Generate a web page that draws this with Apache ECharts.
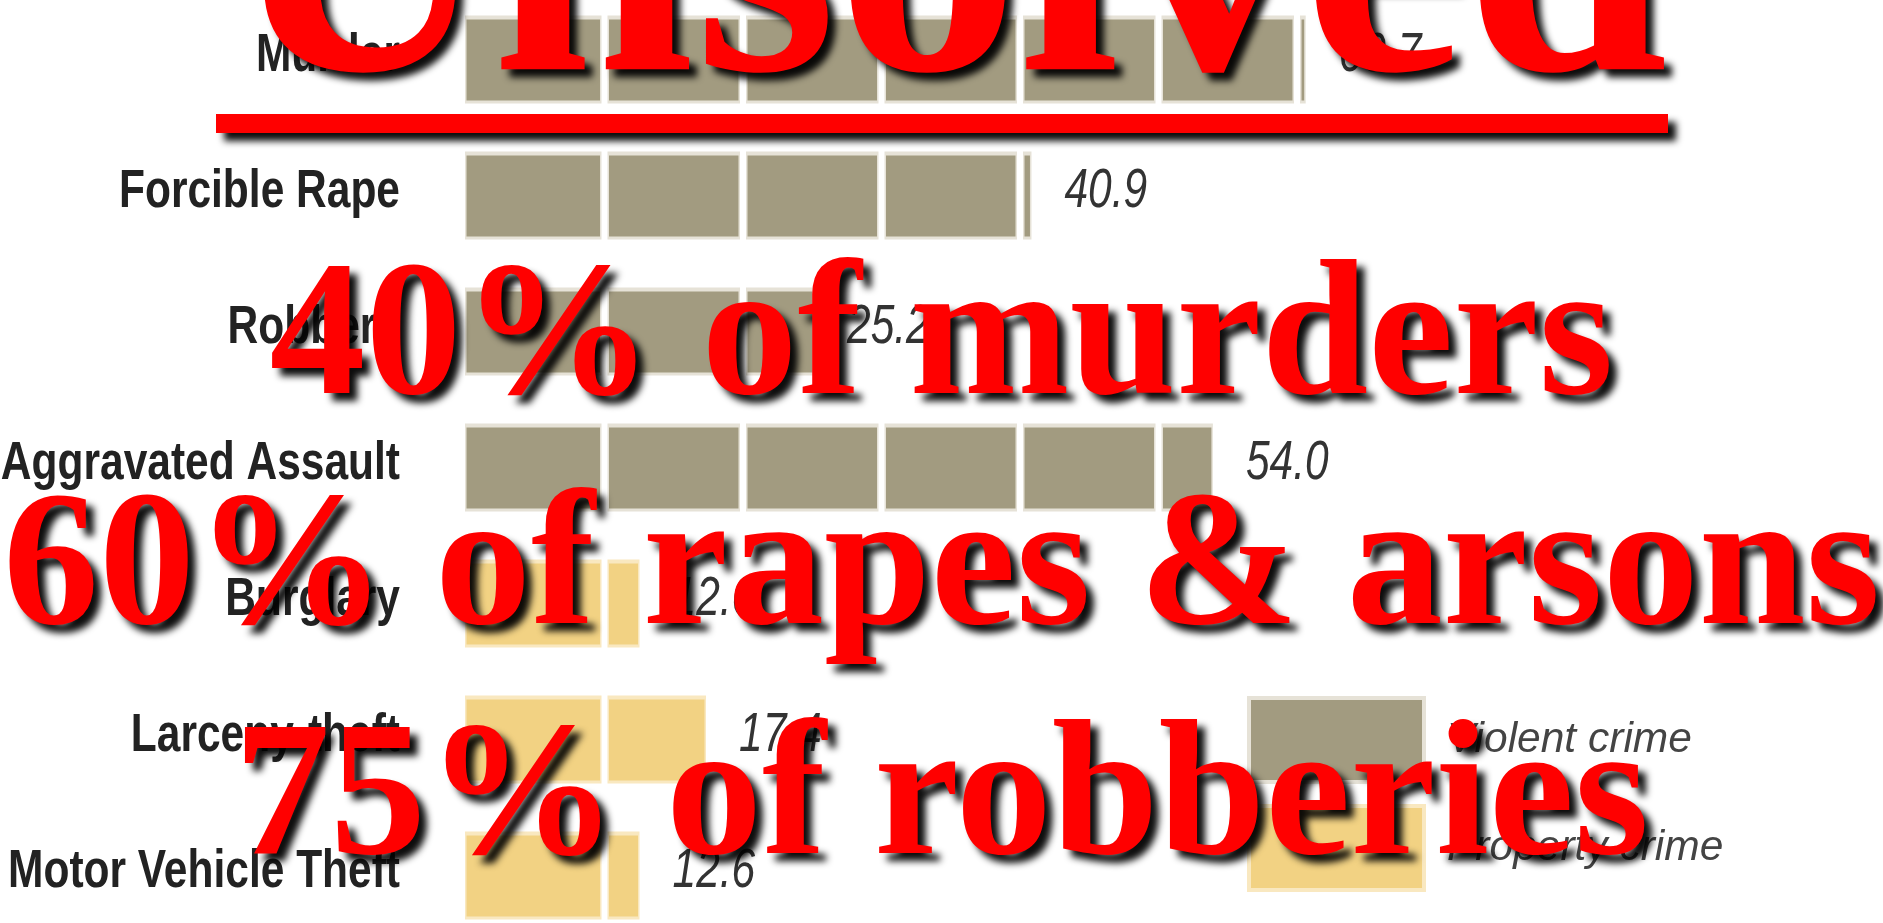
<!DOCTYPE html>
<html>
<head>
<meta charset="utf-8">
<script src="https://cdn.jsdelivr.net/npm/echarts@6/dist/echarts.min.js"></script>
<style>
html,body{margin:0;padding:0;background:#fff;overflow:hidden;}
#chart{width:1883px;height:923px;}
</style>
</head>
<body>
<div id="chart"></div>
<script>
// ---- data ----
const categories = ['Murder', 'Forcible Rape', 'Robbery', 'Aggravated Assault', 'Burglary', 'Larceny-theft', 'Motor Vehicle Theft'];
const violentValues = [60.7, 40.9, 25.2, 54.0, null, null, null];
const propertyValues = [null, null, null, null, 12.6, 17.4, 12.6];
const seriesNames = ['Violent crime', 'Property crime'];
const blockStep = 10;
const headline = 'Unsolved';
const callouts = ['40% of murders', '60% of rapes & arsons', '75% of robberies'];

const sansFam = '"Liberation Sans", Arial, sans-serif';
const serif = '"Liberation Serif", "Times New Roman", serif';
const catSize = 42.5, valSize = 42.5, legSize = 42.5, stretchY = 1.27;

const colors = {
  violent: { fill: '#a29b80', edge: '#e6e2d7' },
  property: { fill: '#f2d283', edge: '#f9e8c0' }
};

function toData(values) {
  const out = [];
  values.forEach((v, i) => { if (v != null) out.push([v, i]); });
  return out;
}

function makeRender(fill, edge) {
  return function (params, api) {
    const v = api.value(0), cat = api.value(1);
    const c0 = api.coord([0, cat]);
    const bandH = api.size([0, 1])[1];
    const h = bandH * 0.647;
    const top = c0[1] - h / 2;
    const children = [];
    for (let k = 0; k * blockStep < v; k++) {
      const lo = k * blockStep, hi = Math.min((k + 1) * blockStep, v);
      const xa = api.coord([lo, cat])[0] + (k > 0 ? 4 : 0);
      const xb = api.coord([hi, cat])[0] - (hi < v ? 2 : 0);
      const w = Math.max(xb - xa, 1);
      children.push({ type: 'rect', shape: { x: xa, y: top, width: w, height: h }, style: { fill: edge } });
      children.push({ type: 'rect', shape: { x: xa + 1.5, y: top + 4, width: Math.max(w - 3, 1), height: h - 7 }, style: { fill: fill } });
    }
    const xe = api.coord([v, cat])[0];
    children.push({
      type: 'text', x: xe + 33, y: c0[1] - 4, scaleX: 1, scaleY: 1.3,
      style: {
        text: v.toFixed(1), x: 0, y: 0,
        fill: '#333', font: 'italic ' + valSize + 'px ' + sansFam,
        textAlign: 'left', align: 'left', textVerticalAlign: 'middle', verticalAlign: 'middle'
      }
    });
    return { type: 'group', children: children };
  };
}

function renderCategoryLabel(params, api) {
  const cat = api.value(1);
  const c0 = api.coord([0, cat]);
  return {
    type: 'text', x: c0[0] - 65, y: c0[1] - 3, scaleX: 1, scaleY: stretchY,
    style: {
      text: categories[cat], x: 0, y: 0, fill: '#222',
      font: 'bold ' + catSize + 'px ' + sansFam,
      textAlign: 'right', align: 'right', textVerticalAlign: 'middle', verticalAlign: 'middle'
    }
  };
}

const shadow = {
  textShadowBlur: 7, textShadowColor: 'rgba(0,0,0,0.95)', textShadowOffsetX: 8, textShadowOffsetY: 8
};
const rectShadow = { shadowBlur: 7, shadowColor: 'rgba(0,0,0,0.95)', shadowOffsetX: 8, shadowOffsetY: 8 };
const bigFont = 'bold 192px ' + serif;
const calloutBaselines = [398, 628, 858];

const graphics = [
  {
    type: 'text', z: 100,
    x: 948, y: 78 - 103,
    style: Object.assign({ text: headline, fill: '#ff0000', font: 'bold 365px ' + serif,
      textAlign: 'center', align: 'center', textVerticalAlign: 'middle', verticalAlign: 'middle' }, shadow)
  },
  {
    type: 'rect', z: 100,
    shape: { x: 216, y: 114, width: 1452, height: 19 },
    style: Object.assign({ fill: '#ff0000' }, rectShadow)
  }
];
callouts.forEach((t, i) => {
  graphics.push({
    type: 'text', z: 100,
    x: 941.5, y: calloutBaselines[i] - 55,
    style: Object.assign({ text: t, fill: '#ff0000', font: bigFont,
      textAlign: 'center', align: 'center', textVerticalAlign: 'middle', verticalAlign: 'middle' }, shadow)
  });
});

const chart = echarts.init(document.getElementById('chart'), null, { renderer: 'canvas' });
chart.setOption({
  animation: false,
  backgroundColor: '#ffffff',
  grid: { left: 465, top: -8.5, width: 1385, height: 952, containLabel: false, outerBoundsMode: 'none' },
  xAxis: { type: 'value', min: 0, max: 100, show: false, splitLine: { show: false } },
  yAxis: {
    type: 'category', data: categories, inverse: true,
    axisLine: { show: false }, axisTick: { show: false }, splitLine: { show: false },
    axisLabel: { show: false }
  },
  legend: {
    orient: 'vertical', left: 1242, top: 691,
    itemWidth: 175, itemHeight: 84, itemGap: 20, icon: 'rect',
    textStyle: { fontStyle: 'italic', fontSize: legSize, fontFamily: sansFam, color: '#444', padding: [0, 0, 0, 18] },
    data: [
      { name: seriesNames[0], itemStyle: { color: colors.violent.fill, borderColor: colors.violent.edge, borderWidth: 4 } },
      { name: seriesNames[1], itemStyle: { color: colors.property.fill, borderColor: colors.property.edge, borderWidth: 4 } }
    ]
  },
  series: [
    { name: seriesNames[0], type: 'custom', renderItem: makeRender(colors.violent.fill, colors.violent.edge),
      itemStyle: { color: colors.violent.fill }, encode: { x: 0, y: 1 }, data: toData(violentValues), z: 2 },
    { name: seriesNames[1], type: 'custom', renderItem: makeRender(colors.property.fill, colors.property.edge),
      itemStyle: { color: colors.property.fill }, encode: { x: 0, y: 1 }, data: toData(propertyValues), z: 2 },
    { name: 'categoryLabels', type: 'custom', renderItem: renderCategoryLabel, silent: true,
      encode: { x: 0, y: 1 }, data: categories.map((c, i) => [0, i]), z: 3 }
  ],
  graphic: graphics
});
</script>
</body>
</html>
